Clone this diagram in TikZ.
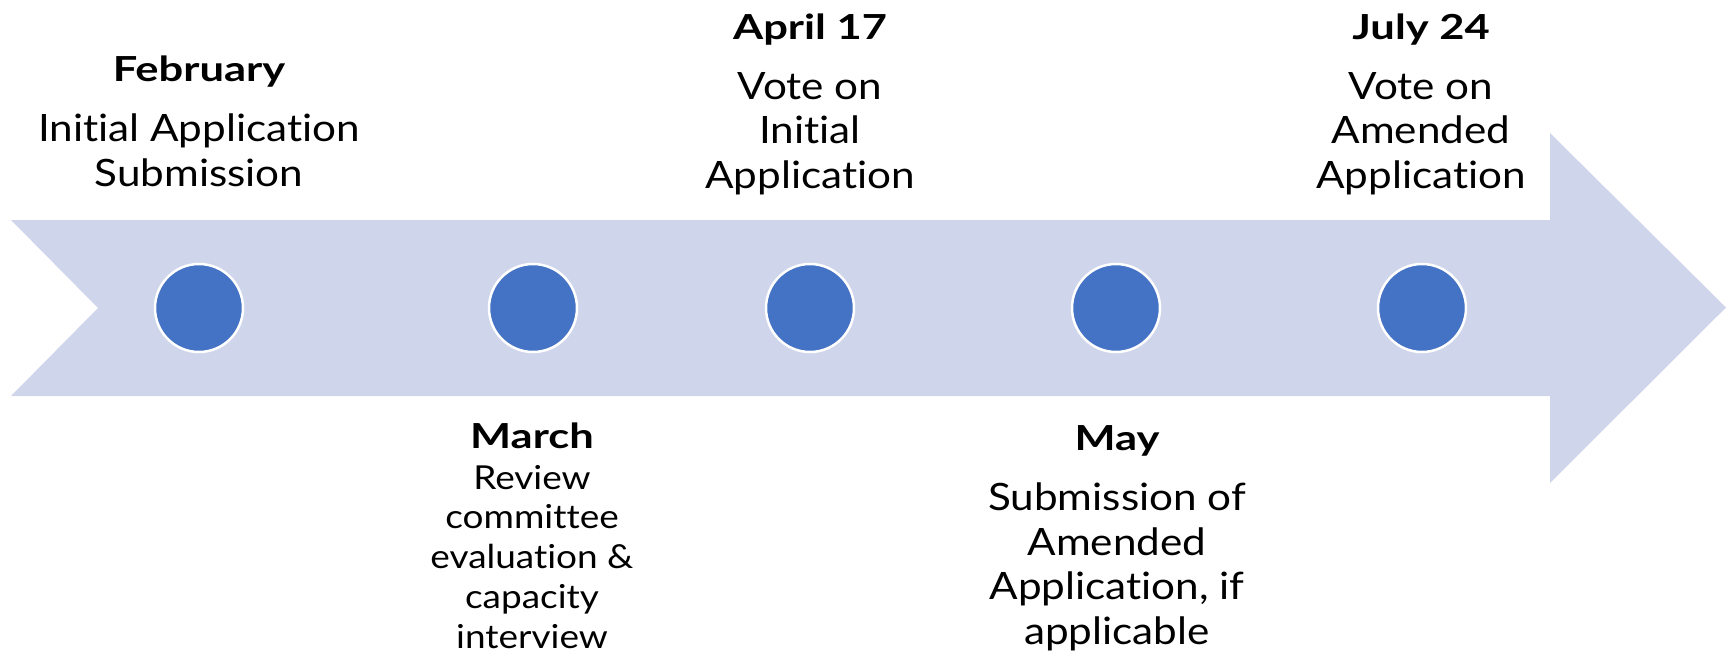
\documentclass[tikz,border=0pt]{standalone}
\usepackage{fontspec}
\setmainfont{Lato}[FakeStretch=1.12,Ligatures={NoCommon}]
\newfontfamily\headfont{Lato}[FakeStretch=1.26,Ligatures={NoCommon}]
\definecolor{band}{HTML}{CFD5EA}
\definecolor{dot}{HTML}{4472C4}
\begin{document}
\begin{tikzpicture}[x=1pt,y=-1pt,
  dotnode/.style={circle,fill=dot,draw=white,line width=2.5pt,minimum size=88pt,inner sep=0pt},
  headnode/.style={anchor=base,inner sep=0pt,font=\headfont\fontsize{34.5}{40}\selectfont\bfseries},
  bodynode/.style={anchor=north,inner sep=0pt,align=center,font=\fontsize{37.7}{44.5}\selectfont},
  smallbody/.style={anchor=north,inner sep=0pt,align=center,font=\fontsize{33}{39.7}\selectfont}]
\useasboundingbox (0,0) rectangle (1733,656);
\fill[band] (11,220) -- (1550,220) -- (1550,133) -- (1726,307.5) -- (1550,483) -- (1550,396) -- (11,396) -- (98,308) -- cycle;
\node[dotnode] (d1) at (199,308) {};
\node[dotnode] (d2) at (533,308) {};
\node[dotnode] (d3) at (810,308) {};
\node[dotnode] (d4) at (1116,308) {};
\node[dotnode] (d5) at (1422,308) {};
% February
\node[headnode] (h1) at (199,81) {February};
\node[bodynode] (b1) at (199,114) {Initial Application\\Submission};
% April 17
\node[headnode] (h3) at (810,39) {April 17};
\node[bodynode] (b3) at (810,72) {Vote on\\Initial\\Application};
% July 24
\node[headnode] (h5) at (1421,39) {July 24};
\node[bodynode] (b5) at (1421,72) {Vote on\\Amended\\Application};
% March
\node[headnode] (h2) at (532,448) {March};
\node[smallbody] (b2) at (532,465) {Review\\committee\\evaluation \&\\capacity\\interview};
% May
\node[headnode] (h4) at (1117,450) {May};
\node[bodynode] (b4) at (1117,483) {Submission of\\Amended\\Application, if\\applicable};
\end{tikzpicture}
\end{document}
